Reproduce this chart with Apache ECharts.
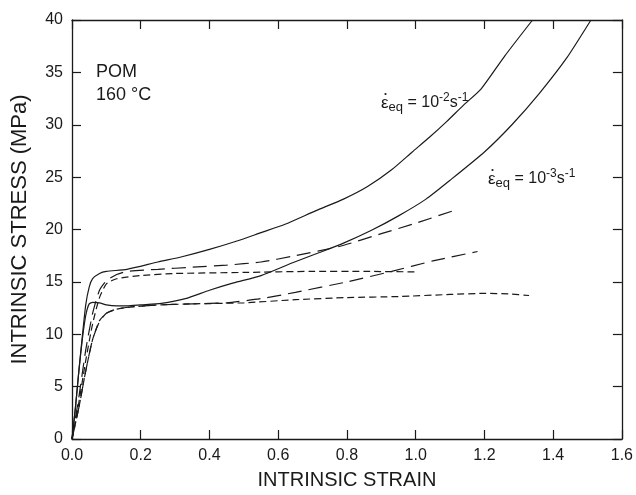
<!DOCTYPE html>
<html>
<head>
<meta charset="utf-8">
<script src="https://cdn.jsdelivr.net/npm/echarts@6/dist/echarts.min.js"></script>
<style>
  html, body { margin: 0; padding: 0; background: #fff; }
  #main { width: 636px; height: 495px; }
</style>
</head>
<body>
<div id="main"></div>
<script>
// strain / stress pairs
const fastSolid = [[0, 0], [0.01, 3], [0.02, 6.5], [0.03, 9.8], [0.04, 12.8], [0.05, 14.5], [0.06, 15.3], [0.08, 15.8], [0.1, 16.0], [0.16, 16.2], [0.25, 16.9], [0.32, 17.4], [0.4, 18.1], [0.48, 18.9], [0.55, 19.7], [0.62, 20.5], [0.71, 21.8], [0.79, 22.9], [0.86, 24.1], [0.93, 25.7], [0.99, 27.4], [1.04, 28.8], [1.09, 30.3], [1.14, 31.9], [1.19, 33.4], [1.26, 36.6], [1.34, 40]];
const slowSolid = [[0, 0], [0.01, 3], [0.02, 6.5], [0.03, 9.5], [0.04, 11.8], [0.05, 12.9], [0.06, 13.05], [0.08, 13.0], [0.1, 12.8], [0.13, 12.7], [0.16, 12.7], [0.2, 12.8], [0.26, 12.95], [0.33, 13.4], [0.4, 14.2], [0.47, 14.9], [0.55, 15.6], [0.64, 16.8], [0.72, 17.8], [0.79, 18.7], [0.87, 19.9], [0.95, 21.3], [1.03, 22.9], [1.1, 24.7], [1.2, 27.4], [1.28, 30.0], [1.36, 33.0], [1.44, 36.4], [1.51, 40]];
const fastLongDash = [[0, 0], [0.02, 4], [0.04, 8.5], [0.06, 12], [0.08, 14.2], [0.1, 15.1], [0.13, 15.7], [0.16, 16.0], [0.25, 16.2], [0.35, 16.4], [0.45, 16.6], [0.55, 16.9], [0.65, 17.5], [0.78, 18.4], [0.9, 19.6], [1.0, 20.6], [1.11, 21.8]];
const fastShortDash = [[0, 0], [0.02, 3.5], [0.04, 7.5], [0.06, 11], [0.08, 13.5], [0.1, 14.8], [0.13, 15.3], [0.2, 15.6], [0.3, 15.8], [0.5, 15.9], [0.7, 16.0], [0.85, 16.0], [1.0, 15.95]];
const slowLongDash = [[0, 0], [0.02, 3], [0.04, 6.5], [0.06, 9.5], [0.08, 11.2], [0.1, 12.0], [0.13, 12.4], [0.17, 12.6], [0.25, 12.8], [0.35, 12.9], [0.45, 13.0], [0.55, 13.4], [0.65, 14.0], [0.8, 15.0], [0.93, 16.0], [1.05, 17.0], [1.18, 17.9]];
const slowShortDash = [[0, 0], [0.02, 3], [0.04, 6.5], [0.06, 9.5], [0.08, 11.3], [0.1, 12.0], [0.13, 12.4], [0.17, 12.6], [0.25, 12.8], [0.35, 12.9], [0.5, 13.0], [0.65, 13.3], [0.8, 13.5], [0.95, 13.6], [1.1, 13.8], [1.2, 13.9], [1.27, 13.85], [1.33, 13.7]];

const xRange = [0, 1.6, 0.2];
const yRange = [0, 40, 5];

const FONT = '"Liberation Sans", Arial, sans-serif';
const INK = '#1a1a1a';

var chartDom = document.getElementById('main');
var myChart = echarts.init(chartDom);
var option;

function curve(data, dash) {
  return {
    type: 'line',
    data: data,
    showSymbol: false,
    smooth: 0.2,
    silent: true,
    lineStyle: { color: INK, width: 1.2, type: dash }
  };
}

function axisBase(range, pos, showLabel) {
  return {
    type: 'value',
    position: pos,
    min: range[0],
    max: range[1],
    interval: range[2],
    splitLine: { show: false },
    axisLine: { show: true, onZero: false, lineStyle: { color: INK, width: 1.3 } },
    axisTick: { show: true, inside: true, length: 9, lineStyle: { color: INK, width: 1.2 } },
    axisLabel: {
      show: showLabel,
      fontSize: 16,
      fontFamily: FONT,
      color: INK,
      margin: 9
    }
  };
}

// rate label: eps with a dot on top, subscript and exponents
function rateLabel(x, y, exp) {
  return {
    type: 'group',
    x: x,
    y: y,
    silent: true,
    children: [
      {
        type: 'circle',
        shape: { cx: 4.5, cy: 2, r: 1.1 },
        style: { fill: INK }
      },
      {
        type: 'text',
        x: 0,
        y: 0,
        style: {
          text: '{e|\u03B5}{sub|eq}{m| = 10}{sup|' + exp + '}{m|s}{sup|-1}',
          verticalAlign: 'top',
          align: 'left',
          rich: {
            e: { fontSize: 17, lineHeight: 22, fontFamily: FONT, fill: INK },
            m: { fontSize: 16, lineHeight: 22, fontFamily: FONT, fill: INK },
            sub: { fontSize: 13, lineHeight: 12, verticalAlign: 'bottom', fontFamily: FONT, fill: INK },
            sup: { fontSize: 12, lineHeight: 14, verticalAlign: 'top', fontFamily: FONT, fill: INK }
          }
        }
      }
    ]
  };
}

var xBottom = axisBase(xRange, 'bottom', true);
xBottom.axisLabel.formatter = function (v) { return v.toFixed(1); };
xBottom.name = 'INTRINSIC STRAIN';
xBottom.nameLocation = 'middle';
xBottom.nameGap = 31;
xBottom.nameTextStyle = { fontSize: 20, fontFamily: FONT, color: INK };

var yLeft = axisBase(yRange, 'left', true);
yLeft.name = 'INTRINSIC STRESS (MPa)';
yLeft.nameLocation = 'middle';
yLeft.nameGap = 41;
yLeft.nameTextStyle = { fontSize: 22, fontFamily: FONT, color: INK };

option = {
  animation: false,
  backgroundColor: '#fff',
  grid: { left: 72, right: 14, top: 20, bottom: 54 },
  xAxis: [xBottom, axisBase(xRange, 'top', false)],
  yAxis: [yLeft, axisBase(yRange, 'right', false)],
  series: [
    curve(fastSolid, 'solid'),
    curve(slowSolid, 'solid'),
    curve(fastLongDash, [14, 7]),
    curve(slowLongDash, [14, 7]),
    curve(fastShortDash, [7, 4]),
    curve(slowShortDash, [7, 4])
  ],
  graphic: [
    {
      type: 'text',
      x: 96,
      y: 61,
      silent: true,
      style: {
        text: 'POM\n160 \u00B0C',
        fontSize: 18,
        lineHeight: 23,
        fontFamily: FONT,
        fill: INK,
        verticalAlign: 'top'
      }
    },
    rateLabel(381, 92, '-2'),
    rateLabel(488, 168, '-3')
  ]
};

option && myChart.setOption(option);
</script>
</body>
</html>
